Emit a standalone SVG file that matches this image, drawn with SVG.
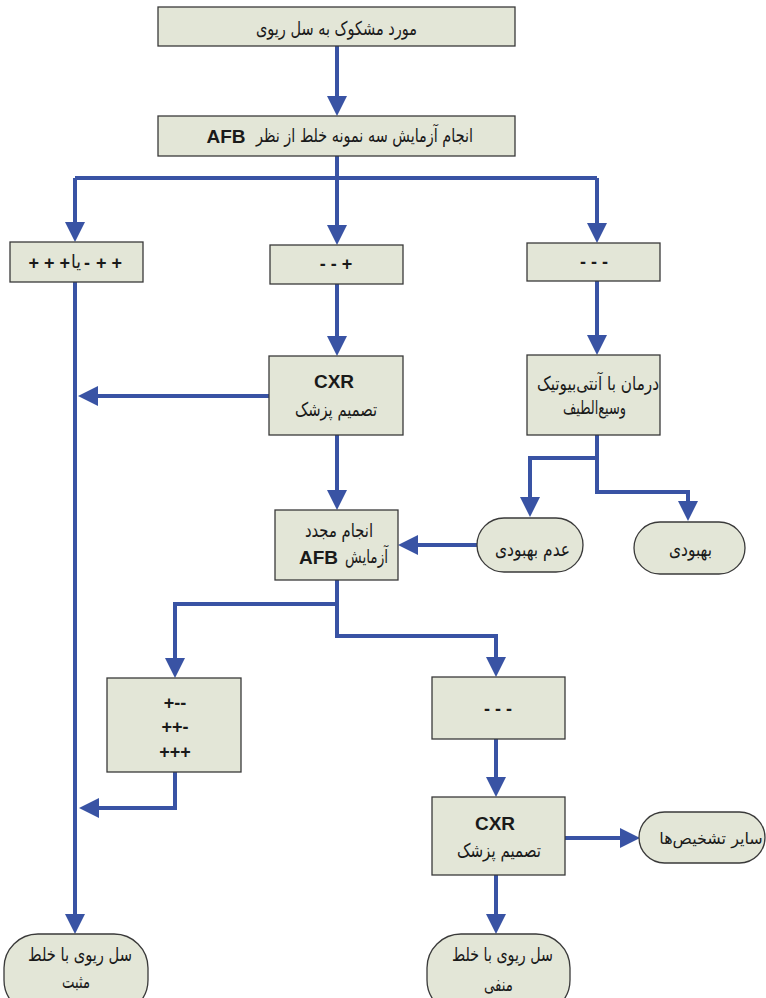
<svg xmlns="http://www.w3.org/2000/svg" width="766" height="998" viewBox="0 0 766 998">
<style>
.box{fill:#E3E6D7;stroke:#3a3a3a;stroke-width:1.3}
.c{fill:none;stroke:#3953A4;stroke-width:4}
.fa{font-family:"DejaVu Sans",sans-serif;font-size:19px;fill:#1a1a1a;text-anchor:middle}
.en{font-family:"Liberation Sans",Arial,sans-serif;font-weight:bold;font-size:19px;fill:#1a1a1a;text-anchor:middle}
.pm{font-family:"Liberation Sans",Arial,sans-serif;font-weight:bold;font-size:18px;fill:#1a1a1a;text-anchor:middle}
</style>
<defs>
<marker id="ah" markerUnits="userSpaceOnUse" markerWidth="20" markerHeight="20" viewBox="0 0 20 20" refX="10" refY="10" orient="auto">
<path d="M0,0 L20,10 L0,20 Z" fill="#3953A4"/>
</marker>
</defs>
<rect width="766" height="998" fill="#ffffff"/>
<g id="connectors">
<path class="c" d="M337,46 V106" marker-end="url(#ah)"/>
<path class="c" d="M337,156 V178 M75,178 H597"/>
<path class="c" d="M75,178 V232" marker-end="url(#ah)"/>
<path class="c" d="M337,178 V235" marker-end="url(#ah)"/>
<path class="c" d="M597,178 V233" marker-end="url(#ah)"/>
<path class="c" d="M75,282 V924" marker-end="url(#ah)"/>
<path class="c" d="M337,284 V346" marker-end="url(#ah)"/>
<path class="c" d="M269,396 H88" marker-end="url(#ah)"/>
<path class="c" d="M337,435 V500" marker-end="url(#ah)"/>
<path class="c" d="M597,281 V345" marker-end="url(#ah)"/>
<path class="c" d="M597,435 V458 H530 V507" marker-end="url(#ah)"/>
<path class="c" d="M597,458 V492 H688 V511" marker-end="url(#ah)"/>
<path class="c" d="M477,545 H408" marker-end="url(#ah)"/>
<path class="c" d="M337,580 V604 H175 V668" marker-end="url(#ah)"/>
<path class="c" d="M337,604 V636 H496 V667" marker-end="url(#ah)"/>
<path class="c" d="M175,772 V808 H89" marker-end="url(#ah)"/>
<path class="c" d="M496,739 V787" marker-end="url(#ah)"/>
<path class="c" d="M565,838 H630" marker-end="url(#ah)"/>
<path class="c" d="M496,875 V924" marker-end="url(#ah)"/>
</g>
<g id="n1">
<rect class="box" x="158" y="7" width="357" height="39"/>
<text class="fa" x="336.5" y="35" textLength="161" lengthAdjust="spacingAndGlyphs">مورد مشکوک به سل ریوی</text>
</g>
<g id="n2">
<rect class="box" x="158" y="116" width="357" height="40"/>
<text class="fa" x="364.5" y="142" textLength="217" lengthAdjust="spacingAndGlyphs">انجام  آزمایش سه نمونه خلط از نظر</text>
<text class="en" x="226" y="143">AFB</text>
</g>
<g id="n3">
<rect class="box" x="10" y="242" width="133" height="40"/>
<text class="pm" x="70" y="269" style="text-anchor:end">+ + +</text>
<text class="fa" x="71" y="268" style="text-anchor:start" textLength="10" lengthAdjust="spacingAndGlyphs">یا</text>
<text class="pm" x="84" y="269" style="text-anchor:start">-</text>
<text class="pm" x="96" y="269" style="text-anchor:start">+ +</text>
</g>
<g id="n4">
<rect class="box" x="270" y="245" width="133" height="39"/>
<text class="pm" x="336" y="270">- - +</text>
</g>
<g id="n5">
<rect class="box" x="527" y="243" width="133" height="38"/>
<text class="pm" x="594" y="268">- - -</text>
</g>
<g id="n6">
<rect class="box" x="269" y="356" width="134" height="79"/>
<text class="en" x="334" y="388">CXR</text>
<text class="fa" x="336" y="416" textLength="82" lengthAdjust="spacingAndGlyphs">تصمیم پزشک</text>
</g>
<g id="n7">
<rect class="box" x="527" y="355" width="133" height="80"/>
<text class="fa" x="598" y="390" textLength="122" lengthAdjust="spacingAndGlyphs">درمان با آنتی‌بیوتیک</text>
<text class="fa" x="594.5" y="414" textLength="63" lengthAdjust="spacingAndGlyphs">وسیع‌الطیف</text>
</g>
<g id="n8">
<rect class="box" x="275" y="510" width="123" height="70"/>
<text class="fa" x="339" y="537" textLength="68" lengthAdjust="spacingAndGlyphs">انجام مجدد</text>
<text class="fa" x="366.5" y="563" textLength="43" lengthAdjust="spacingAndGlyphs">آزمایش</text>
<text class="en" x="318.5" y="564">AFB</text>
</g>
<g id="n9">
<rect class="box" x="477" y="518" width="106" height="54" rx="27"/>
<text class="fa" x="532.5" y="556" textLength="75" lengthAdjust="spacingAndGlyphs">عدم بهبودی</text>
</g>
<g id="n10">
<rect class="box" x="634" y="522" width="111" height="52" rx="26"/>
<text class="fa" x="690.5" y="556" textLength="43" lengthAdjust="spacingAndGlyphs">بهبودی</text>
</g>
<g id="n11">
<rect class="box" x="107" y="678" width="134" height="94"/>
<text class="pm" x="175" y="709">+--</text>
<text class="pm" x="175" y="733">++-</text>
<text class="pm" x="175" y="758">+++</text>
</g>
<g id="n12">
<rect class="box" x="432" y="677" width="133" height="62"/>
<text class="pm" x="498" y="715">- - -</text>
</g>
<g id="n13">
<rect class="box" x="432" y="797" width="133" height="78"/>
<text class="en" x="495" y="830">CXR</text>
<text class="fa" x="499" y="857" textLength="84" lengthAdjust="spacingAndGlyphs">تصمیم پزشک</text>
</g>
<g id="n14">
<rect class="box" x="639" y="812" width="126" height="51" rx="25.5"/>
<text class="fa" x="711" y="844" style="font-size:16px">سایر تشخیص‌ها</text>
</g>
<g id="n15">
<rect class="box" x="4" y="934" width="144" height="80" rx="34"/>
<text class="fa" x="80" y="961" textLength="104" lengthAdjust="spacingAndGlyphs">سل ریوی با خلط</text>
<text class="fa" x="76" y="988" textLength="28" lengthAdjust="spacingAndGlyphs">مثبت</text>
</g>
<g id="n16">
<rect class="box" x="427" y="934" width="143" height="80" rx="34"/>
<text class="fa" x="502.5" y="961" textLength="101" lengthAdjust="spacingAndGlyphs">سل ریوی با خلط</text>
<text class="fa" x="498.5" y="991" textLength="29" lengthAdjust="spacingAndGlyphs">منفی</text>
</g>
</svg>
